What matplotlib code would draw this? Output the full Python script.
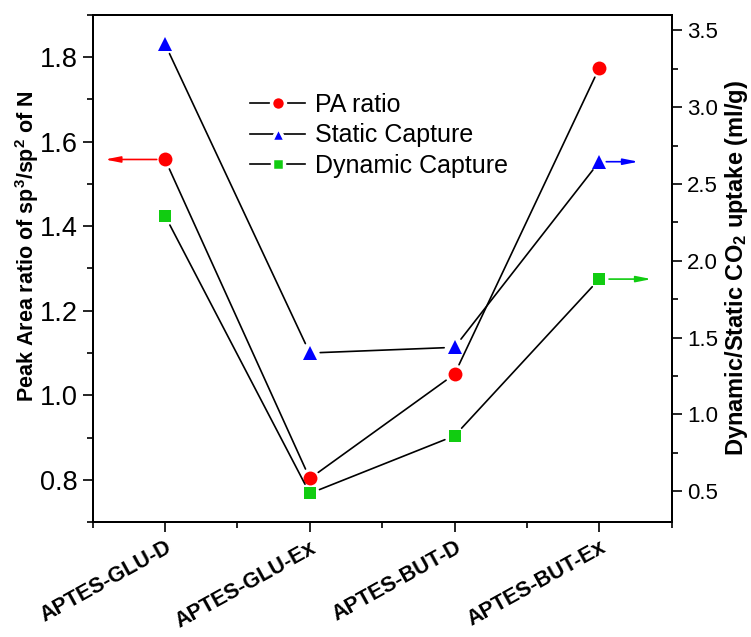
import matplotlib
matplotlib.use("Agg")
import matplotlib.pyplot as plt
import matplotlib.transforms as mtransforms
from matplotlib.lines import Line2D
from matplotlib.ticker import MultipleLocator, FormatStrFormatter

plt.rcParams["font.family"] = ["Liberation Sans", "DejaVu Sans"]
plt.rcParams["mathtext.fontset"] = "custom"
plt.rcParams["mathtext.rm"] = "Liberation Sans"
plt.rcParams["mathtext.bf"] = "Liberation Sans:bold"
plt.rcParams["mathtext.it"] = "Liberation Sans:italic"

samples = ["APTES-GLU-D", "APTES-GLU-Ex", "APTES-BUT-D", "APTES-BUT-Ex"]
pa_ratio = [1.558, 0.803, 1.050, 1.775]
static_capture = [3.41, 1.40, 1.437, 2.645]
dynamic_capture = [2.293, 0.486, 0.861, 1.881]

RED = "#ff0000"
BLUE = "#0000ff"
GREEN = "#11cc11"

x = list(range(1, len(samples) + 1))

fig = plt.figure(figsize=(7.51, 6.37), dpi=100)
ax = fig.add_axes([0.1234, 0.1805, 0.7710, 0.7960])
ax2 = ax.twinx()

ax.set_xlim(0.5, 4.5)
ax.set_ylim(0.7, 1.9)
ax2.set_ylim(0.3, 3.6)


def connect(axis, xs, ys, gap=7.5):
    # black connecting segments that stop short of each marker
    for i in range(len(xs) - 1):
        axis.annotate("", xy=(xs[i + 1], ys[i + 1]), xytext=(xs[i], ys[i]),
                      arrowprops=dict(arrowstyle="-", color="black", lw=1.2,
                                      shrinkA=gap, shrinkB=gap),
                      zorder=2)


connect(ax, x, pa_ratio)
connect(ax2, x, static_capture)
connect(ax2, x, dynamic_capture)

ax.plot(x, pa_ratio, linestyle="none", marker="o", ms=10, color=RED,
        markeredgewidth=0, zorder=4)
ax2.plot(x, static_capture, linestyle="none", marker="^", ms=10.5, color=BLUE,
         markeredgewidth=0, zorder=4)
ax2.plot(x, dynamic_capture, linestyle="none", marker="s", ms=9, color=GREEN,
         markeredgewidth=0, zorder=4)

# axis-pointer arrows
arrow_kw = dict(arrowstyle="-|>,head_length=0.9,head_width=0.18", lw=1.2)
ax.annotate("", xy=(0.585, pa_ratio[0]), xytext=(x[0], pa_ratio[0]),
            arrowprops=dict(color=RED, shrinkA=6, shrinkB=0, **arrow_kw))
ax2.annotate("", xy=(4.27, static_capture[-1]), xytext=(x[-1], static_capture[-1]),
             arrowprops=dict(color=BLUE, shrinkA=5, shrinkB=0, **arrow_kw))
ax2.annotate("", xy=(4.36, dynamic_capture[-1]), xytext=(x[-1], dynamic_capture[-1]),
             arrowprops=dict(color=GREEN, shrinkA=7, shrinkB=0, **arrow_kw))

# ticks
ax.set_xticks(x)
ax.set_xticklabels(samples, rotation=29, ha="right", va="top",
                   rotation_mode="anchor", fontsize=15.5, fontweight="bold")
ax.set_xticks([0.5, 1.5, 2.5, 3.5, 4.5], minor=True)
shift = mtransforms.ScaledTranslation(0.17, 0.0, fig.dpi_scale_trans)
for lbl in ax.get_xticklabels():
    lbl.set_transform(lbl.get_transform() + shift)

ax.yaxis.set_major_locator(MultipleLocator(0.2))
ax.yaxis.set_minor_locator(MultipleLocator(0.1))
ax2.yaxis.set_major_locator(MultipleLocator(0.5))
ax2.yaxis.set_minor_locator(MultipleLocator(0.25))
ax.yaxis.set_major_formatter(FormatStrFormatter("%.1f"))
ax2.yaxis.set_major_formatter(FormatStrFormatter("%.1f"))

for a in (ax, ax2):
    a.tick_params(which="major", direction="out", length=7, width=1.2, pad=3)
    a.tick_params(which="minor", direction="out", length=4, width=1.2)
    for sp in a.spines.values():
        sp.set_linewidth(1.4)
ax.tick_params(axis="y", which="major", labelsize=19.5, pad=4)
ax2.tick_params(axis="y", which="major", labelsize=16, pad=4)
ax.tick_params(axis="x", which="major", pad=4)

ax.set_ylabel(r"Peak Area ratio of sp$^{\mathbf{3}}$/sp$^{\mathbf{2}}$ of N",
              fontsize=15.5, fontweight="bold")
ax.yaxis.set_label_coords(-0.089, 0.544)
ax2.set_ylabel(r"Dynamic/Static CO$_{\mathbf{2}}$ uptake (ml/g)",
               fontsize=17, fontweight="bold", rotation=90)
ax2.yaxis.set_label_coords(1.089, 0.5)

handles = [
    Line2D([], [], color="black", lw=1.2, marker="o", ms=10,
           markerfacecolor=RED, markeredgecolor="white", markeredgewidth=2.5),
    Line2D([], [], color="black", lw=1.2, marker="^", ms=10.5,
           markerfacecolor=BLUE, markeredgecolor="white", markeredgewidth=2.5),
    Line2D([], [], color="black", lw=1.2, marker="s", ms=9,
           markerfacecolor=GREEN, markeredgecolor="white", markeredgewidth=2.5),
]
ax2.legend(handles, ["PA ratio", "Static Capture", "Dynamic Capture"],
           loc="upper left", bbox_to_anchor=(0.272, 0.846), frameon=False,
           fontsize=18, handlelength=2.2, handletextpad=0.4,
           labelspacing=0.25, borderpad=0, borderaxespad=0)

fig.savefig("out.png", dpi=100)
